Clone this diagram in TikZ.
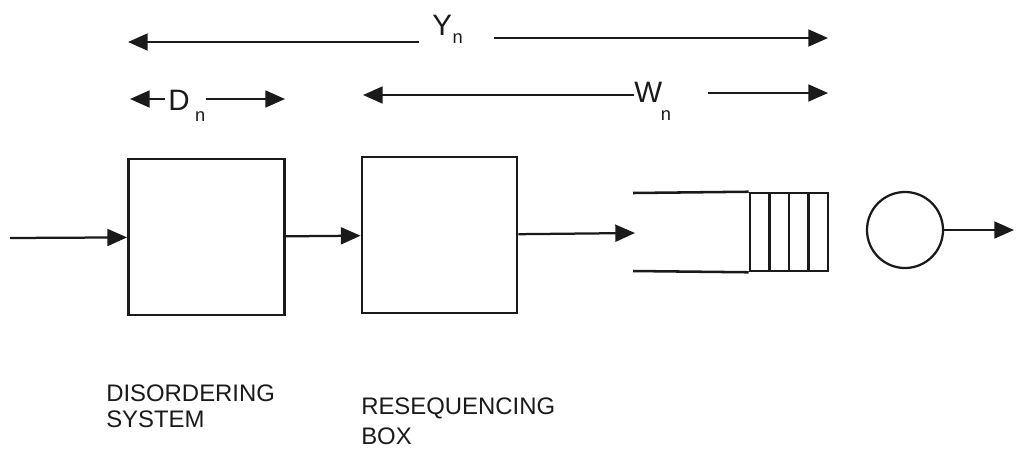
\documentclass[tikz,border=0pt]{standalone}
\usepackage{fontspec}
\setmainfont{Liberation Sans}
\usepackage{tikz}
\usetikzlibrary{positioning,calc,arrows.meta}
\definecolor{ink}{HTML}{1A1A1A}
\newcommand{\lown}[1]{\smash{\raisebox{#1}{\fontsize{13}{15}\selectfont n}}}
\tikzset{
  >={Triangle[length=14pt,width=12pt]},
  every node/.style={font=\fontsize{17}{18}\selectfont},
  % --- nodes
  blk/.style   = {draw=ink, line width=2pt, inner sep=0pt, minimum width=3.9cm, minimum height=3.9cm},
  qslots/.style = {draw=ink, line width=1.8pt, inner sep=0pt, minimum width=1.95cm, minimum height=1.95cm},
  srvc/.style  = {draw=ink, circle, line width=1.6pt, inner sep=0pt, minimum size=1.9cm},
  sym/.style   = {font=\fontsize{21}{24}\selectfont, text=ink, inner sep=0pt, anchor=base west},
  tag/.style   = {text=ink, align=left, inner sep=0pt, anchor=north west},
  % --- edges
  e/.style     = {->, line width=1.6pt, draw=ink},
  qline/.style = {line width=1.8pt, draw=ink},
}

\begin{document}
\begin{tikzpicture}[x=0.025cm, y=-0.025cm]
  \useasboundingbox (0,0) rectangle (1016,455);

  % blocks
  \node[blk] (disord) at (206.5,237) {};
  \node[blk, minimum width=3.875cm] (reseq) at (439.5,235) {};
  \node[qslots] (buf) at (789,232) {};
  \node[srvc] (srv) at (905,230) {};

  % free ends
  \coordinate (src)  at (10,238);
  \coordinate (qin)  at (635,233);
  \coordinate (qtop) at (633,193);
  \coordinate (qbot) at (633,271);
  \coordinate (out)  at (1014,230);

  % flow
  \draw[e] (src) -- (disord);
  \draw[e] (disord) -- (reseq);
  \draw[e] (reseq) -- (qin);
  \draw[e] (srv) -- (out);

  % queue
  \draw[qline] (buf.north west) -- (qtop);
  \draw[qline] (buf.south west) -- (qbot);
  \foreach \f in {0.26,0.5,0.74}
    \draw[qline] ($(buf.north west)!\f!(buf.north east)$) -- ($(buf.south west)!\f!(buf.south east)$);

  % spans
  \node[sym] (ylbl) at (432,35)  {Y\kern0.5pt\lown{-6pt}};
  \node[sym] (dlbl) at (168,110) {D\kern4pt\lown{-8.5pt}};
  \node[sym] (wlbl) at (634,102) {W\kern-1pt\lown{-13pt}};
  \coordinate (yl) at (128,42);
  \coordinate (yr) at (828,38);
  \coordinate (dl) at (130,99);
  \coordinate (dr) at (285,99);
  \coordinate (wl) at (363,95);
  \coordinate (wr) at (828,93);
  \draw[e, shorten <=9pt]  (ylbl.west |- yl) -- (yl);
  \draw[e, shorten <=22pt] (ylbl.east |- yr) -- (yr);
  \draw[e, shorten <=2pt]  (dlbl.west |- dl) -- (dl);
  \draw[e]                 (dlbl.east |- dr) -- (dr);
  \draw[e]                 (wlbl.west |- wl) -- (wl);
  \draw[e, shorten <=26pt] (wlbl.east |- wr) -- (wr);

  % captions
  \node[tag] (dislbl) at (106,385) {DISORDERING\\SYSTEM};
  \node[tag, font=\fontsize{17}{21}\selectfont] (reslbl) at (361,398) {RESEQUENCING\\BOX};
\end{tikzpicture}
\end{document}
